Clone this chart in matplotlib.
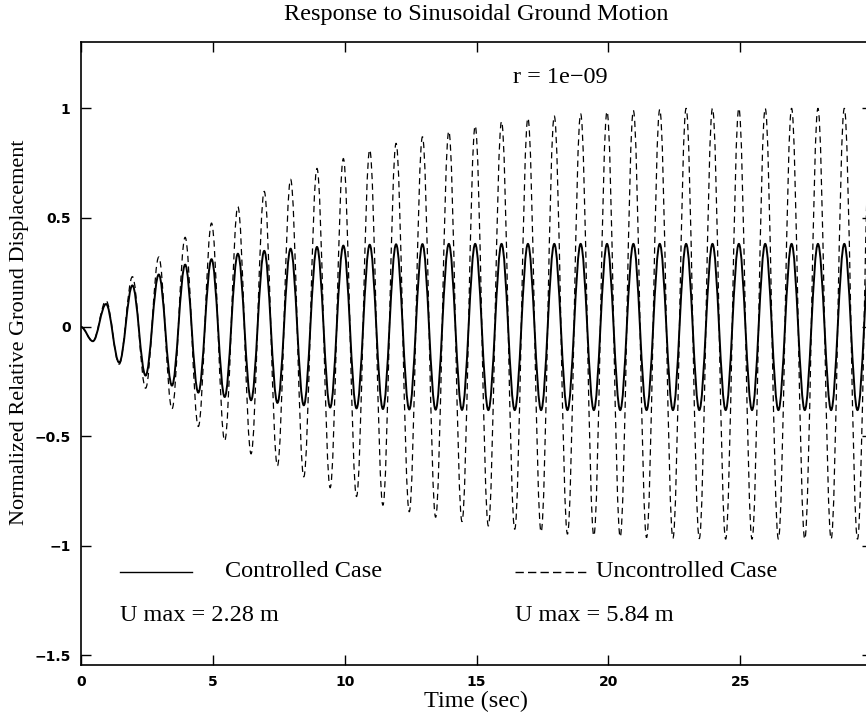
import numpy as np
import matplotlib
matplotlib.use("Agg")
import matplotlib.pyplot as plt
from matplotlib.path import Path
from matplotlib.patches import PathPatch

# ---------------- data ----------------
# times of the local extrema (s)
trough_times = [0.45, 1.45, 2.45, 3.45, 4.45, 5.45, 6.45, 7.45, 8.45, 9.45,
                10.45, 11.45, 12.45, 13.45, 14.45, 15.45, 16.45, 17.45, 18.45, 19.45,
                20.45, 21.45, 22.45, 23.45, 24.45, 25.45, 26.45, 27.45, 28.45, 29.45]
peak_times = [0.95, 1.95, 2.95, 3.95, 4.95, 5.95, 6.95, 7.95, 8.95, 9.95,
              10.95, 11.95, 12.95, 13.95, 14.95, 15.95, 16.95, 17.95, 18.95, 19.95,
              20.95, 21.95, 22.95, 23.95, 24.95, 25.95, 26.95, 27.95, 28.95, 29.95]

controlled_troughs = [-0.065, -0.163, -0.222, -0.268, -0.300, -0.320, -0.335, -0.347, -0.358, -0.368,
                      -0.372, -0.375, -0.377, -0.378, -0.379, -0.380, -0.380, -0.380, -0.380, -0.380,
                      -0.380, -0.380, -0.380, -0.380, -0.380, -0.380, -0.380, -0.380, -0.380, -0.380]
controlled_peaks = [0.105, 0.190, 0.240, 0.285, 0.310, 0.335, 0.348, 0.358, 0.366, 0.372,
                    0.376, 0.378, 0.379, 0.380, 0.380, 0.380, 0.380, 0.380, 0.380, 0.380,
                    0.380, 0.380, 0.380, 0.380, 0.380, 0.380, 0.380, 0.380, 0.380, 0.380]

uncontrolled_troughs = [-0.065, -0.170, -0.280, -0.375, -0.455, -0.520, -0.580, -0.635, -0.685, -0.735,
                        -0.775, -0.815, -0.845, -0.870, -0.890, -0.910, -0.925, -0.937, -0.947, -0.955,
                        -0.960, -0.963, -0.966, -0.968, -0.970, -0.970, -0.970, -0.970, -0.970, -0.970]
uncontrolled_peaks = [0.120, 0.230, 0.320, 0.410, 0.475, 0.550, 0.620, 0.675, 0.725, 0.770,
                      0.810, 0.840, 0.870, 0.895, 0.920, 0.940, 0.955, 0.965, 0.975, 0.985,
                      0.990, 0.995, 1.000, 1.000, 1.000, 1.000, 1.000, 1.000, 1.000, 1.000]

x_ticks = [0, 5, 10, 15, 20, 25, 30]
x_tick_labels = ["0", "5", "10", "15", "20", "25", ""]
y_ticks = [-1.5, -1.0, -0.5, 0.0, 0.5, 1.0]
y_tick_labels = ["\u22121.5", "\u22121", "\u22120.5", "0", "0.5", "1"]

title = "Response to Sinusoidal Ground Motion"
x_label = "Time (sec)"
y_label = "Normalized Relative Ground Displacement"
r_label = "r = 1e\u221209"
controlled_label = "Controlled Case"
uncontrolled_label = "Uncontrolled Case"
controlled_umax = "U max = 2.28 m"
uncontrolled_umax = "U max = 5.84 m"

# ---------------- figure ----------------
W, H = 866, 721
fig = plt.figure(figsize=(W / 100, H / 100), dpi=100)
left, right, top, bottom = 81, 872, 41.7, 665
ax = fig.add_axes([left / W, (H - bottom) / H, (right - left) / W, (bottom - top) / H])
ax.set_xlim(0, 30)
ax.set_ylim(-1.5457, 1.3046)


def extrema_path(t_tr, v_tr, t_pk, v_pk):
    """Smooth path through the read extrema (starting at rest at t=0)."""
    pts = [(0.0, 0.0)]
    for a, b, c, d in zip(t_tr, v_tr, t_pk, v_pk):
        pts.append((a, b))
        pts.append((c, d))
    verts = [pts[0]]
    codes = [Path.MOVETO]
    k = 0.3634
    for (t0, v0), (t1, v1) in zip(pts[:-1], pts[1:]):
        dt = t1 - t0
        verts += [(t0 + k * dt, v0), (t1 - k * dt, v1), (t1, v1)]
        codes += [Path.CURVE4] * 3
    return Path(verts, codes)


unc = PathPatch(extrema_path(trough_times, uncontrolled_troughs, peak_times, uncontrolled_peaks),
                fill=False, edgecolor="black", linewidth=0.9, linestyle=(0, (5, 3.5)),
                transform=ax.transData)
ctl = PathPatch(extrema_path(trough_times, controlled_troughs, peak_times, controlled_peaks),
                fill=False, edgecolor="black", linewidth=1.4, transform=ax.transData)
ax.add_patch(unc)
ax.add_patch(ctl)

serif = ["Liberation Serif", "DejaVu Serif"]
fs = 17.5

ax.set_xticks(x_ticks)
ax.set_xticklabels(x_tick_labels)
ax.set_yticks(y_ticks)
ax.set_yticklabels(y_tick_labels)
ax.tick_params(direction="in", length=7, width=1, top=True, right=True,
               labelsize=10, pad=7.5)
for lab in ax.get_xticklabels() + ax.get_yticklabels():
    lab.set_fontfamily(["DejaVu Sans"])
    lab.set_fontweight("bold")
for s in ax.spines.values():
    s.set_linewidth(1.2)

ax.set_title(title, fontfamily=serif, fontsize=fs, pad=15.5)
ax.set_xlabel(x_label, fontfamily=serif, fontsize=fs, labelpad=1)
ax.set_ylabel(y_label, fontfamily=serif, fontsize=16)
ax.yaxis.set_label_coords(-0.066, 0.534)

# annotation block (legend-like texts)
ax.text(16.38, 1.143, r_label, fontfamily=serif, fontsize=fs, va="center", ha="left")
ax.plot([1.48, 4.21], [-1.12, -1.12], color="black", linewidth=1.0)
ax.text(5.46, -1.142, controlled_label, fontfamily=serif, fontsize=fs, va="baseline")
ax.text(1.48, -1.343, controlled_umax, fontfamily=serif, fontsize=fs, va="baseline")
ax.plot([16.45, 19.2], [-1.12, -1.12], color="black", linewidth=1.0, linestyle=(0, (6, 3)))
ax.text(19.55, -1.142, uncontrolled_label, fontfamily=serif, fontsize=fs, va="baseline")
ax.text(16.45, -1.343, uncontrolled_umax, fontfamily=serif, fontsize=fs, va="baseline")

fig.savefig("out.png", dpi=100)
